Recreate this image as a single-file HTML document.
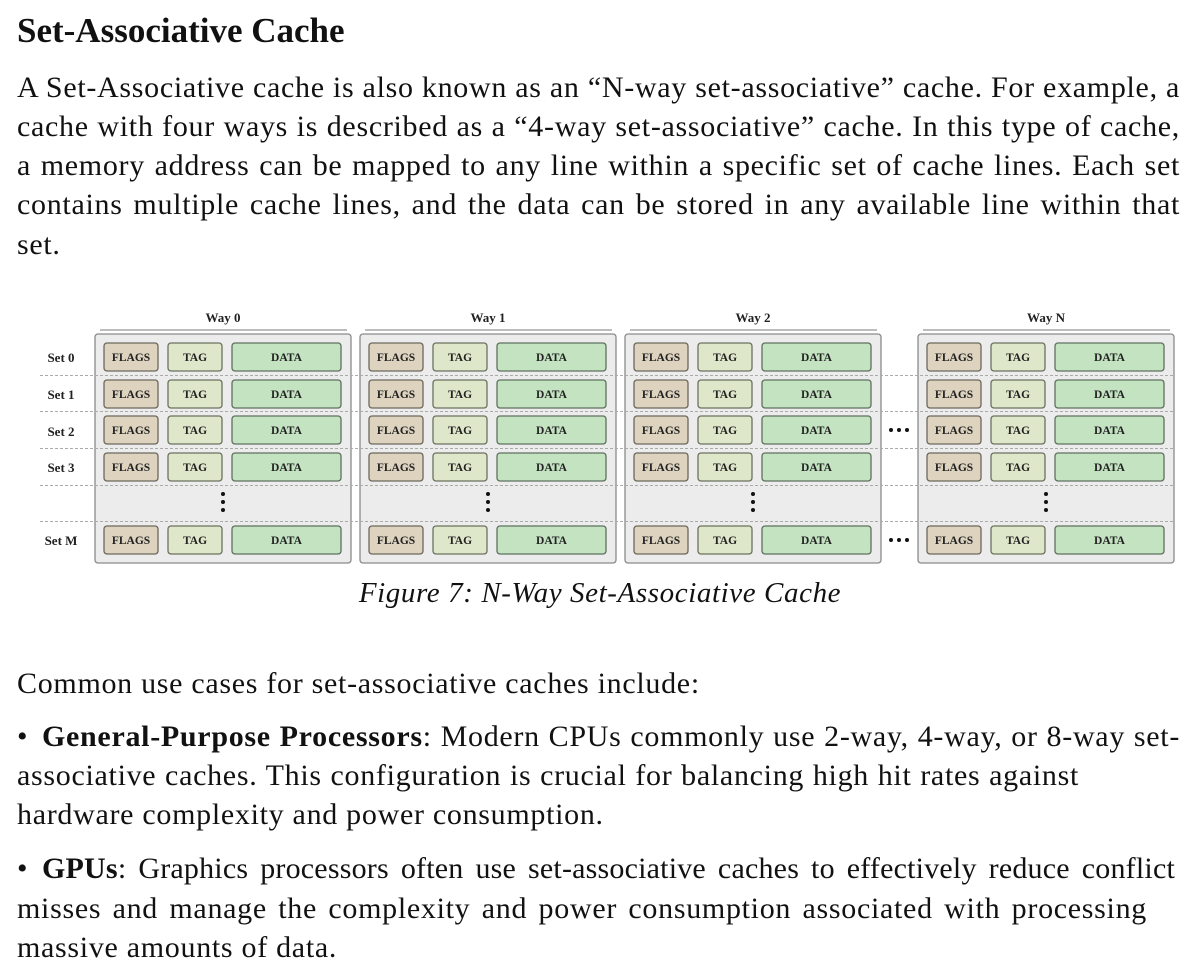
<!DOCTYPE html>
<html><head><meta charset="utf-8"><style>
body{margin:0;width:1200px;height:980px;background:#fff;position:relative;overflow:hidden;font-family:"Liberation Serif",serif;color:#111}
.l{position:absolute;left:17px;width:1163px;font-size:30px;line-height:39px;white-space:nowrap;letter-spacing:0.7px}
.j{text-align:justify;text-align-last:justify;white-space:normal}
.bu{display:inline-block;width:25px}
h1{position:absolute;left:17px;top:11px;margin:0;font-size:35px;line-height:40px;font-weight:bold}
svg{position:absolute;left:0;top:0}
.f{fill:#ddd3bf;stroke:#6d675b;stroke-width:1.3}
.t{fill:#dfe7ca;stroke:#6b715e;stroke-width:1.3}
.d{fill:#c3e3c1;stroke:#5f705f;stroke-width:1.3}
svg text{font-family:"Liberation Serif",serif;font-weight:bold;font-size:11.5px;text-anchor:middle;fill:#222}
svg text.b{font-size:13px}
.cap{position:absolute;left:0;width:1200px;text-align:center;top:574px;font-size:29px;line-height:39px;font-style:italic;letter-spacing:0.6px}
</style></head><body>
<h1>Set-Associative Cache</h1>
<div class="l j" style="top:68px">A Set-Associative cache is also known as an “N-way set-associative” cache. For example, a</div>
<div class="l j" style="top:107px">cache with four ways is described as a “4-way set-associative” cache. In this type of cache,</div>
<div class="l j" style="top:146px">a memory address can be mapped to any line within a specific set of cache lines. Each set</div>
<div class="l j" style="top:185px">contains multiple cache lines, and the data can be stored in any available line within that</div>
<div class="l" style="top:225px">set.</div>

<svg width="1200" height="580" viewBox="0 0 1200 580">
<g fill="#ececec" stroke="#8a8a8a" stroke-width="1.3">
<rect x="95" y="334" width="256" height="229" rx="3"/>
<rect x="360" y="334" width="256" height="229" rx="3"/>
<rect x="625" y="334" width="256" height="229" rx="3"/>
<rect x="918" y="334" width="256" height="229" rx="3"/>
</g>
<g stroke="#bdbdbd" stroke-width="2">
<line x1="100" y1="330" x2="347" y2="330"/><line x1="365" y1="330" x2="612" y2="330"/>
<line x1="630" y1="330" x2="877" y2="330"/><line x1="923" y1="330" x2="1170" y2="330"/>
</g>
<g stroke="#aaa" stroke-width="1" stroke-dasharray="3,2">
<line x1="40" y1="375.5" x2="1174" y2="375.5"/><line x1="40" y1="411.5" x2="1174" y2="411.5"/>
<line x1="40" y1="448.5" x2="1174" y2="448.5"/><line x1="40" y1="485.5" x2="1174" y2="485.5"/>
<line x1="40" y1="521.5" x2="1174" y2="521.5"/>
</g>
<g>
<text class="b" x="223" y="322">Way 0</text><text class="b" x="488" y="322">Way 1</text><text class="b" x="753" y="322">Way 2</text><text class="b" x="1046" y="322">Way N</text>
<text class="b" x="61" y="362">Set 0</text><text class="b" x="61" y="399">Set 1</text><text class="b" x="61" y="436">Set 2</text><text class="b" x="61" y="472">Set 3</text><text class="b" x="61" y="545">Set M</text>
</g>
<g fill="#111">
<circle cx="223" cy="494" r="2"/><circle cx="223" cy="502" r="2"/><circle cx="223" cy="510" r="2"/>
<circle cx="488" cy="494" r="2"/><circle cx="488" cy="502" r="2"/><circle cx="488" cy="510" r="2"/>
<circle cx="753" cy="494" r="2"/><circle cx="753" cy="502" r="2"/><circle cx="753" cy="510" r="2"/>
<circle cx="1046" cy="494" r="2"/><circle cx="1046" cy="502" r="2"/><circle cx="1046" cy="510" r="2"/>
<circle cx="891" cy="430" r="2"/><circle cx="899" cy="430" r="2"/><circle cx="907" cy="430" r="2"/>
<circle cx="891" cy="540" r="2"/><circle cx="899" cy="540" r="2"/><circle cx="907" cy="540" r="2"/>
</g>
<!-- Way 0 -->
<g transform="translate(95,343)"><rect class="f" x="9" width="54" height="28" rx="3"/><text x="36" y="18">FLAGS</text><rect class="t" x="73" width="54" height="28" rx="3"/><text x="100" y="18">TAG</text><rect class="d" x="137" width="109" height="28" rx="3"/><text x="191.5" y="18">DATA</text></g>
<g transform="translate(95,380)"><rect class="f" x="9" width="54" height="28" rx="3"/><text x="36" y="18">FLAGS</text><rect class="t" x="73" width="54" height="28" rx="3"/><text x="100" y="18">TAG</text><rect class="d" x="137" width="109" height="28" rx="3"/><text x="191.5" y="18">DATA</text></g>
<g transform="translate(95,416)"><rect class="f" x="9" width="54" height="28" rx="3"/><text x="36" y="18">FLAGS</text><rect class="t" x="73" width="54" height="28" rx="3"/><text x="100" y="18">TAG</text><rect class="d" x="137" width="109" height="28" rx="3"/><text x="191.5" y="18">DATA</text></g>
<g transform="translate(95,453)"><rect class="f" x="9" width="54" height="28" rx="3"/><text x="36" y="18">FLAGS</text><rect class="t" x="73" width="54" height="28" rx="3"/><text x="100" y="18">TAG</text><rect class="d" x="137" width="109" height="28" rx="3"/><text x="191.5" y="18">DATA</text></g>
<g transform="translate(95,526)"><rect class="f" x="9" width="54" height="28" rx="3"/><text x="36" y="18">FLAGS</text><rect class="t" x="73" width="54" height="28" rx="3"/><text x="100" y="18">TAG</text><rect class="d" x="137" width="109" height="28" rx="3"/><text x="191.5" y="18">DATA</text></g>
<!-- Way 1 -->
<g transform="translate(360,343)"><rect class="f" x="9" width="54" height="28" rx="3"/><text x="36" y="18">FLAGS</text><rect class="t" x="73" width="54" height="28" rx="3"/><text x="100" y="18">TAG</text><rect class="d" x="137" width="109" height="28" rx="3"/><text x="191.5" y="18">DATA</text></g>
<g transform="translate(360,380)"><rect class="f" x="9" width="54" height="28" rx="3"/><text x="36" y="18">FLAGS</text><rect class="t" x="73" width="54" height="28" rx="3"/><text x="100" y="18">TAG</text><rect class="d" x="137" width="109" height="28" rx="3"/><text x="191.5" y="18">DATA</text></g>
<g transform="translate(360,416)"><rect class="f" x="9" width="54" height="28" rx="3"/><text x="36" y="18">FLAGS</text><rect class="t" x="73" width="54" height="28" rx="3"/><text x="100" y="18">TAG</text><rect class="d" x="137" width="109" height="28" rx="3"/><text x="191.5" y="18">DATA</text></g>
<g transform="translate(360,453)"><rect class="f" x="9" width="54" height="28" rx="3"/><text x="36" y="18">FLAGS</text><rect class="t" x="73" width="54" height="28" rx="3"/><text x="100" y="18">TAG</text><rect class="d" x="137" width="109" height="28" rx="3"/><text x="191.5" y="18">DATA</text></g>
<g transform="translate(360,526)"><rect class="f" x="9" width="54" height="28" rx="3"/><text x="36" y="18">FLAGS</text><rect class="t" x="73" width="54" height="28" rx="3"/><text x="100" y="18">TAG</text><rect class="d" x="137" width="109" height="28" rx="3"/><text x="191.5" y="18">DATA</text></g>
<!-- Way 2 -->
<g transform="translate(625,343)"><rect class="f" x="9" width="54" height="28" rx="3"/><text x="36" y="18">FLAGS</text><rect class="t" x="73" width="54" height="28" rx="3"/><text x="100" y="18">TAG</text><rect class="d" x="137" width="109" height="28" rx="3"/><text x="191.5" y="18">DATA</text></g>
<g transform="translate(625,380)"><rect class="f" x="9" width="54" height="28" rx="3"/><text x="36" y="18">FLAGS</text><rect class="t" x="73" width="54" height="28" rx="3"/><text x="100" y="18">TAG</text><rect class="d" x="137" width="109" height="28" rx="3"/><text x="191.5" y="18">DATA</text></g>
<g transform="translate(625,416)"><rect class="f" x="9" width="54" height="28" rx="3"/><text x="36" y="18">FLAGS</text><rect class="t" x="73" width="54" height="28" rx="3"/><text x="100" y="18">TAG</text><rect class="d" x="137" width="109" height="28" rx="3"/><text x="191.5" y="18">DATA</text></g>
<g transform="translate(625,453)"><rect class="f" x="9" width="54" height="28" rx="3"/><text x="36" y="18">FLAGS</text><rect class="t" x="73" width="54" height="28" rx="3"/><text x="100" y="18">TAG</text><rect class="d" x="137" width="109" height="28" rx="3"/><text x="191.5" y="18">DATA</text></g>
<g transform="translate(625,526)"><rect class="f" x="9" width="54" height="28" rx="3"/><text x="36" y="18">FLAGS</text><rect class="t" x="73" width="54" height="28" rx="3"/><text x="100" y="18">TAG</text><rect class="d" x="137" width="109" height="28" rx="3"/><text x="191.5" y="18">DATA</text></g>
<!-- Way N -->
<g transform="translate(918,343)"><rect class="f" x="9" width="54" height="28" rx="3"/><text x="36" y="18">FLAGS</text><rect class="t" x="73" width="54" height="28" rx="3"/><text x="100" y="18">TAG</text><rect class="d" x="137" width="109" height="28" rx="3"/><text x="191.5" y="18">DATA</text></g>
<g transform="translate(918,380)"><rect class="f" x="9" width="54" height="28" rx="3"/><text x="36" y="18">FLAGS</text><rect class="t" x="73" width="54" height="28" rx="3"/><text x="100" y="18">TAG</text><rect class="d" x="137" width="109" height="28" rx="3"/><text x="191.5" y="18">DATA</text></g>
<g transform="translate(918,416)"><rect class="f" x="9" width="54" height="28" rx="3"/><text x="36" y="18">FLAGS</text><rect class="t" x="73" width="54" height="28" rx="3"/><text x="100" y="18">TAG</text><rect class="d" x="137" width="109" height="28" rx="3"/><text x="191.5" y="18">DATA</text></g>
<g transform="translate(918,453)"><rect class="f" x="9" width="54" height="28" rx="3"/><text x="36" y="18">FLAGS</text><rect class="t" x="73" width="54" height="28" rx="3"/><text x="100" y="18">TAG</text><rect class="d" x="137" width="109" height="28" rx="3"/><text x="191.5" y="18">DATA</text></g>
<g transform="translate(918,526)"><rect class="f" x="9" width="54" height="28" rx="3"/><text x="36" y="18">FLAGS</text><rect class="t" x="73" width="54" height="28" rx="3"/><text x="100" y="18">TAG</text><rect class="d" x="137" width="109" height="28" rx="3"/><text x="191.5" y="18">DATA</text></g>
</svg>

<div class="cap">Figure 7: N-Way Set-Associative Cache</div>

<div class="l" style="top:664px">Common use cases for set-associative caches include:</div>
<div class="l j" style="top:717px"><span class="bu">•</span><b>General-Purpose Processors</b>: Modern CPUs commonly use 2-way, 4-way, or 8-way set-</div>
<div class="l j" style="top:756px;width:1062px">associative caches. This configuration is crucial for balancing high hit rates against</div>
<div class="l" style="top:795px">hardware complexity and power consumption.</div>
<div class="l j" style="top:849px;width:1158px;letter-spacing:0.2px"><span class="bu">•</span><b>GPUs</b>: Graphics processors often use set-associative caches to effectively reduce conflict</div>
<div class="l j" style="top:889px;width:1130px">misses and manage the complexity and power consumption associated with processing</div>
<div class="l" style="top:928px">massive amounts of data.</div>
</body></html>
